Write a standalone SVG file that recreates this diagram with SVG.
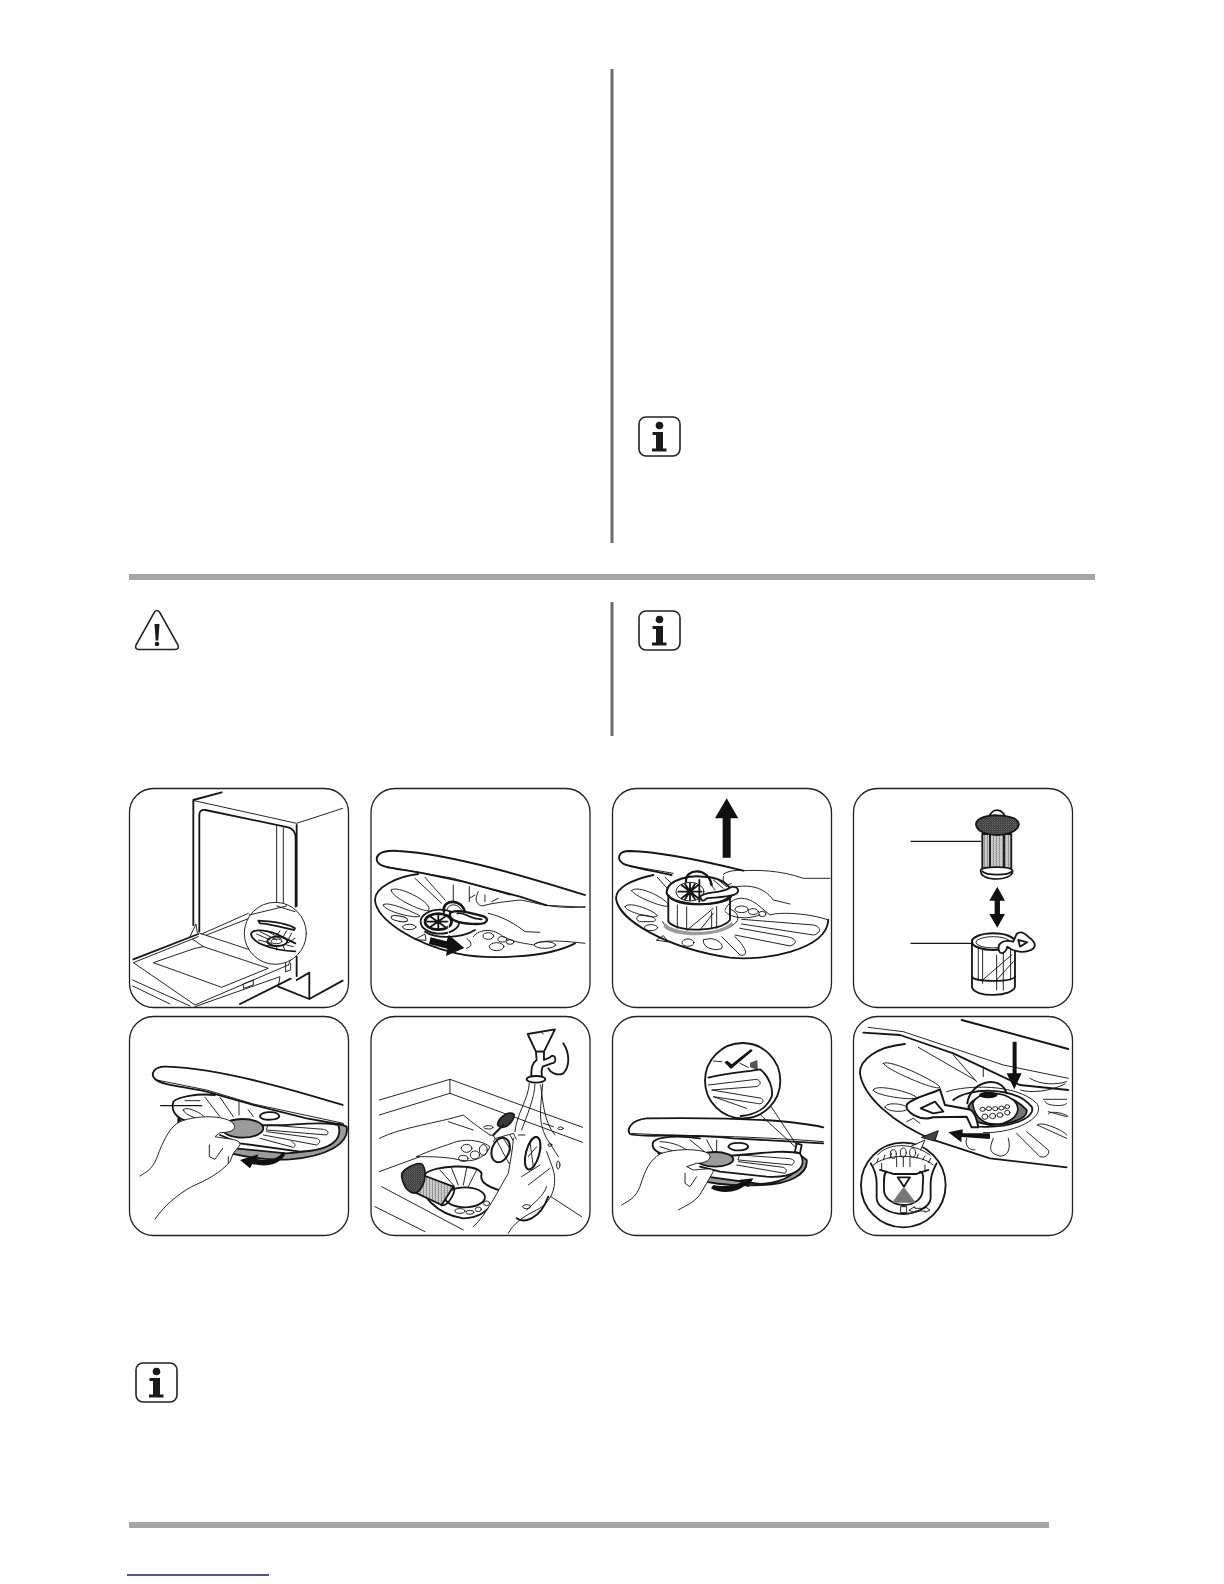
<svg xmlns="http://www.w3.org/2000/svg" width="1224" height="1584" viewBox="0 0 1224 1584">
<defs>
<style>
.bar{fill:#a6a6a6}
.rule{stroke:#6d6d6d;stroke-width:3;fill:none}
.panel{fill:#fff;stroke:#222;stroke-width:1.3}
.art path,.art ellipse,.art circle,.art line{fill:none;stroke:#161616;stroke-linecap:round;stroke-linejoin:round}
.art .t{stroke-width:2.800}
.art .m{stroke-width:5.500}
.art .k{stroke-width:8}
.art .w{fill:#fff}
.art .g{fill:#9b9b9b}
.art .f{fill:#111;stroke:none}
.art .d{fill:#3a3a3a}
.art .wh{fill:#fff;stroke:none}
.art .mesh{fill:url(#mesh)}
.art .str{fill:url(#stripes)}
.ico{fill:none;stroke:#222;stroke-width:1.6}
.icof{fill:#1a1a1a}
</style>
<pattern id="mesh" width="7" height="7" patternUnits="userSpaceOnUse"><rect width="7" height="7" fill="#2e2e2e"/><circle cx="2" cy="2" r="1.700" fill="#c8c8c8"/><circle cx="5.500" cy="5.500" r="1.200" fill="#999"/></pattern>
<pattern id="stripes" width="9" height="6" patternUnits="userSpaceOnUse"><rect width="9" height="6" fill="#d4d4d4"/><rect width="3" height="6" fill="#8a8a8a"/><rect width="9" height="1.500" fill="#aaa"/></pattern>
<symbol id="info" viewBox="0 0 43 41"><rect x="1" y="1" width="41" height="39" rx="7" class="ico"/><circle cx="21.500" cy="9.500" r="3.800" class="icof"/><path class="icof" d="M14.500 16H25V32.500H28.500V35.500H14V32.500H18V19H14.500Z"/></symbol>
</defs>

<g id="rules">
<line class="rule" x1="612" y1="69" x2="612" y2="543"/>
<line class="rule" x1="612" y1="602" x2="612" y2="736"/>
<rect class="bar" x="129" y="574" width="966" height="6"/>
<rect class="bar" x="129" y="1522" width="920" height="6"/>
<line x1="127" y1="1575" x2="269" y2="1575" stroke="#1a1a66" stroke-width="1.500"/>
</g>

<g id="icons">
<use id="info-1" href="#info" x="638" y="416" width="43" height="41"/>
<use id="info-2" href="#info" x="638" y="610" width="43" height="41"/>
<use id="info-3" href="#info" x="135" y="1362" width="43" height="41"/>
<g id="warning">
<path class="ico" d="M157 610.500Q155 610.500 154 613L136 645Q134.500 649.500 139 649.500H175Q179.500 649.500 178 645L160 613Q159 610.500 157 610.500Z"/>
<path class="icof" d="M154.500 624H159.500L158.300 640.500H155.700Z"/><circle class="icof" cx="157" cy="644" r="2.300"/>
</g>
</g>

<g id="panels">
<rect class="panel" x="129.500" y="788.500" width="219" height="219" rx="24"/>
<rect class="panel" x="371" y="788.500" width="219" height="219" rx="24"/>
<rect class="panel" x="612.500" y="788.500" width="219" height="219" rx="24"/>
<rect class="panel" x="853.500" y="788.500" width="219" height="219" rx="24"/>
<rect class="panel" x="129.500" y="1016.500" width="219" height="219" rx="24"/>
<rect class="panel" x="371" y="1016.500" width="219" height="219" rx="24"/>
<rect class="panel" x="612.500" y="1016.500" width="219" height="219" rx="24"/>
<rect class="panel" x="853.500" y="1016.500" width="219" height="219" rx="24"/>
</g>

<g id="step1" class="art" transform="translate(120 780) scale(.3333)">
<path class="m" d="M305 37L220 60V435"/>
<path class="t" d="M222 62L530 130L668 85"/>
<path class="m" d="M530 135V378M530 530V588"/>
<path class="m" d="M238 455V105Q238 88 256 90L505 142Q526 148 527 172V380"/>
<path class="t" d="M470 138V372M490 143V376"/>
<path class="m" d="M40 538L235 462"/>
<path class="t" d="M210 470L228 432L232 458"/>
<path class="t" d="M240 460L497 545V575M235 470L40 548L225 675L505 555M218 478L250 500L225 505L100 548L305 622L445 565L250 500"/>
<path class="t" d="M38 600L210 678M38 618L150 672M245 462L385 400M260 465L400 410M225 680L480 590L475 620"/>
<path class="t" d="M370 612L400 600V615L372 625Z"/>
<path class="m" d="M360 672L512 596"/>
<path class="m" d="M475 620L568 657V578L530 600M568 657L668 602"/>
<path class="t" d="M505 556L520 520M497 575L512 570V550"/>
<circle class="t w" cx="466" cy="460" r="93"/>
<path class="t" d="M388 405L500 378M470 378L525 395M530 395"/>
<path class="m w" d="M415 422C470 425 510 435 525 445L522 450C480 440 440 430 420 430Z"/>
<path class="m" d="M526 490L470 462C430 447 395 448 393 462C395 485 450 512 526 514"/>
<path class="t" d="M410 462L450 480M420 455L470 480M440 452L485 478M470 462L500 480M415 480L455 490M430 495L470 500"/>
<path class="t" d="M480 452L470 468M500 452L490 470M515 460L505 478M525 475L505 488M520 500L500 495M495 512L490 498M470 510V498"/>
<ellipse class="m" cx="472" cy="484" rx="30" ry="14"/>
<ellipse class="t" cx="470" cy="484" rx="16" ry="7"/>
</g>

<g id="step2" class="art" transform="translate(120 780) scale(.3333)">
<path class="m" d="M1395 345C1250 300 1000 222 835 213C780 208 765 228 772 245C785 265 830 265 900 278L1030 305L1200 350L1280 376"/>
<path class="t" d="M800 260L1000 295L1170 345M1280 376L1395 382"/>
<path class="m" d="M895 282C830 290 765 322 765 360C770 420 880 490 1010 520C1100 540 1280 535 1365 490"/>
<path class="t" d="M814 330C830 312 945 370 925 392C905 395 810 350 814 330Z"/>
<path class="t" d="M790 375C795 360 880 395 900 408C895 418 790 395 790 375Z"/>
<ellipse class="t" cx="838" cy="416" rx="25" ry="8" transform="rotate(10 838 416)"/><ellipse class="t" cx="868" cy="441" rx="20" ry="8"/>
<path class="t" d="M885 295L965 370M915 292L975 360M1000 315V365M1048 320V365M1048 355L1065 345"/>
<ellipse class="m w" cx="960" cy="425" rx="58" ry="36"/>
<ellipse class="k w" cx="955" cy="425" rx="40" ry="24"/>
<path class="m" d="M922 425H985M955 405V445M932 410L975 440M975 410L932 440"/>
<path class="m" d="M915 455C950 478 1025 475 1065 450"/>
<path class="k" d="M972 395C965 355 1030 355 1035 400"/>
<path class="t" d="M982 392C980 368 1020 368 1025 395"/>
<path class="k w" style="stroke-width:7" d="M990 400C1000 388 1040 395 1075 405C1112 410 1108 432 1072 432C1040 432 1000 428 990 410Z"/>
<path class="m" d="M1012 400C1030 395 1045 412 1065 415L1085 418"/>
<path class="t" d="M1075 335C1065 355 1065 370 1085 378C1120 368 1160 365 1200 360C1240 365 1300 390 1395 380"/>
<path class="t" d="M1105 400C1150 410 1190 435 1215 455L1260 457"/>
<path class="t" d="M1095 345V365M1135 355L1115 365"/>
<path class="t" d="M1060 470C1080 445 1120 445 1150 470C1190 490 1220 490 1240 495C1260 480 1310 480 1395 490"/>
<ellipse class="t" cx="1105" cy="468" rx="16" ry="10"/><ellipse class="t" cx="1147" cy="478" rx="13" ry="8"/><ellipse class="t" cx="1170" cy="486" rx="12" ry="7"/><ellipse class="t" cx="1130" cy="500" rx="22" ry="12"/>
<ellipse class="t" cx="1275" cy="495" rx="32" ry="10"/>
<path class="t" d="M885 478L915 462L918 480Z"/><path class="t" d="M1040 475C1060 490 1055 500 1040 505"/>
<path class="f" d="M932 472L980 484L986 464L1033 504L978 528L982 506L927 492Z"/>
<path class="t" style="stroke:#fff" d="M985 418V465"/>
</g>

<g id="step3" class="art" transform="translate(600 780) scale(.3333)">
<path class="f" d="M380 55L415 115H392V233H368V115H345Z"/>
<path class="m" d="M430 272C300 240 180 215 90 213C50 213 52 238 68 250C90 262 150 270 215 285"/>
<path class="t" d="M75 255L220 280"/>
<path class="m" d="M160 285C90 300 48 325 48 355C55 420 200 505 390 533C490 545 680 510 685 420"/>
<path class="t" d="M172 292L215 340M195 292L225 320"/>
<path class="t" d="M95 332C110 310 210 360 205 378C190 385 95 345 95 332ZM75 380C85 360 170 395 172 408C160 418 75 395 75 380Z"/>
<path class="t" d="M125 405C105 405 105 425 125 425H160C180 418 150 405 125 405Z"/>
<ellipse class="t" cx="153" cy="443" rx="20" ry="9"/>
<path class="t" d="M170 480L190 467L205 485Z"/>
<ellipse class="t" cx="264" cy="488" rx="18" ry="11"/>
<path class="t" d="M310 480C305 505 350 515 365 505C372 495 355 478 335 476Z"/>
<path class="t" d="M365 470L420 525C440 530 450 515 405 470M405 465L570 498C595 490 590 475 560 470L420 445M425 432L640 465C665 460 665 440 640 435L425 418"/>
<path class="t" d="M188 425C200 470 380 475 412 422C420 400 395 388 385 385"/>
<path class="g" style="stroke:none" d="M195 430C230 465 360 465 395 425L400 435C360 475 220 475 190 440Z"/>
<path class="m w" d="M205 345V425C230 458 360 458 390 420V345Z"/>
<path class="t" d="M232 375V445M260 380V450M350 380V445M262 450L340 385M300 450L340 400M335 395V445"/>
<path class="k w" style="stroke-width:6" d="M200 335C205 295 280 285 310 290C350 290 395 310 395 345C390 380 220 385 200 340Z"/>
<path class="m" d="M205 345C220 385 375 380 392 345"/>
<ellipse class="t w" cx="270" cy="335" rx="42" ry="28"/>
<path class="m" d="M235 335H305M270 310V360M245 315L295 355M295 315L245 355M255 312L285 358M285 312L255 358"/>
<path class="t" d="M340 300L370 325M355 300L380 320M330 310L345 330"/>
<path class="k" style="stroke-width:7" d="M258 305C255 265 325 260 335 315"/>
<path class="m w" d="M300 350C320 330 360 345 395 320C420 320 420 340 400 345C380 352 350 352 320 355C310 365 305 365 300 350Z"/>
<path class="m" d="M298 300V365"/>
<path class="t" d="M370 283C385 270 420 270 430 272C470 270 540 270 610 295H690"/>
<path class="t" d="M370 290C365 310 385 320 395 310M410 320C450 315 490 320 520 360L570 372"/>
<path class="t" d="M375 390C395 345 440 345 480 380L510 405C540 395 630 400 685 420"/>
<ellipse class="t" cx="425" cy="388" rx="20" ry="10"/><ellipse class="t" cx="460" cy="395" rx="15" ry="9"/><ellipse class="t" cx="487" cy="402" rx="11" ry="8"/>
<path class="t" d="M375 395C395 415 440 420 480 405"/>
</g>

<g id="step4" class="art" transform="translate(600 780) scale(.3333)">
<line class="t" style="stroke-width:3.500" x1="933" y1="184" x2="1142" y2="184"/>
<line class="t" style="stroke-width:3.500" x1="933" y1="490" x2="1115" y2="490"/>
<path class="f" d="M1192 320L1215 362H1200V402H1215L1192 443L1168 402H1184V362H1168Z"/>
<path class="m str" d="M1147 162H1234V270H1147Z"/>
<path class="m" d="M1170 165V265M1212 165V265"/>
<path class="k" style="stroke-width:5" d="M1166 125C1165 78 1218 80 1217 125"/>
<path class="m mesh" d="M1128 133C1130 110 1170 105 1192 106C1225 107 1255 115 1257 133C1255 150 1230 165 1192 165C1150 165 1130 150 1128 133Z"/>
<path class="k w" style="stroke-width:5" d="M1142 270C1150 258 1235 258 1238 272C1240 290 1210 297 1190 297C1165 297 1140 290 1142 270Z"/>
<path class="m" d="M1147 274C1160 287 1225 287 1236 274"/>
<path class="m w" d="M1116 482V622C1125 655 1240 650 1245 620V482Z"/>
<ellipse class="k" style="stroke-width:6;fill:#fff" cx="1180" cy="485" rx="64" ry="25"/>
<ellipse class="t" cx="1180" cy="487" rx="52" ry="17"/>
<path class="m" d="M1118 592C1125 605 1235 608 1245 590"/>
<path class="t" d="M1135 505V600M1148 510V610M1190 525V630M1210 515V630M1232 505V600M1148 600L1235 525M1190 600L1240 545"/>
<path class="m w" d="M1197 512C1190 490 1210 478 1240 485L1250 462C1262 452 1272 458 1285 470C1310 488 1312 505 1285 513C1262 520 1235 512 1222 500C1218 520 1200 525 1197 512Z"/>
<path class="m" d="M1255 480L1282 487L1260 500Z"/>
</g>

<g id="step5" class="art" transform="translate(120 1010) scale(.3333)">
<path class="g m" d="M175 325C190 350 240 375 290 395L345 415L500 430C600 425 655 395 655 340L680 350C690 400 620 440 510 448C430 452 340 435 272 412V405L175 345Z"/>
<path class="m" d="M668 285C520 240 300 175 140 170C98 168 92 195 105 207C125 225 180 228 260 245L400 285L560 325L670 345"/>
<path class="t" d="M110 210L260 240L400 282L670 340"/>
<path class="m w" d="M285 255C230 250 175 260 160 275C150 310 180 335 220 335H340L420 345C500 350 560 335 640 342L655 345C668 385 640 420 540 425L360 400L300 375"/>
<path class="t" d="M190 300C195 285 250 310 255 325C250 335 190 315 190 300ZM195 272H240M255 262L300 320M300 262L340 320M357 275V315M385 300L400 320"/>
<path class="m" d="M420 320C420 305 470 300 478 318C478 330 430 335 420 320Z"/>
<path class="t" d="M440 360L620 375C630 365 620 360 610 358L445 345ZM430 375L590 405C605 395 600 390 590 385L440 365M420 385L520 412C530 408 525 400 515 395"/>
<line class="t" style="stroke-width:4" x1="122" y1="287" x2="245" y2="287"/>
<ellipse class="g m" cx="368" cy="355" rx="62" ry="28"/>
<path class="wh" d="M60 498C80 485 95 480 110 445C130 390 150 350 180 335C230 315 310 315 338 338C352 355 340 368 300 368L285 380C320 388 362 385 360 405L340 430L330 455C300 490 260 510 215 530C170 555 130 590 105 628Z"/>
<path class="t" d="M60 498C80 485 95 480 110 445C130 390 150 350 180 335C230 315 310 315 338 338C352 355 340 368 300 368L285 380C320 388 362 385 360 405L340 430L330 455C300 490 260 510 215 530C170 555 130 590 105 628"/>
<path class="t" d="M268 405V440L285 448L308 415M325 440V460"/>
<path class="f" d="M490 425C470 450 445 452 410 447L415 433L360 450L390 475L397 462C440 472 475 465 495 435Z"/>
</g>

<g id="step6" class="art" transform="translate(120 1010) scale(.3333)">
<path class="t" d="M778 270L990 208L1388 352M778 315L990 250L1388 397M990 208V250"/>
<path class="t" d="M778 385C850 350 950 340 1030 315C1060 340 1080 355 1110 375M985 335L1060 360"/>
<path class="t" d="M778 485L900 440M785 530L1030 660M765 590L915 665M1065 650L1150 590M1285 555L1385 620"/>
<path class="m" d="M1330 100C1350 130 1350 170 1330 190C1310 200 1290 185 1285 175"/>
<path class="m w" d="M1223 72L1305 58L1272 125H1248Z"/>
<path class="t" d="M1262 65L1270 72"/>
<path class="m w" d="M1248 125H1272V150L1290 142C1305 125 1315 160 1295 160L1268 170C1262 185 1266 195 1266 200H1234C1234 175 1235 160 1250 150Z"/>
<ellipse class="m w" cx="1248" cy="208" rx="28" ry="10"/>
<path class="t" d="M1228 220C1225 270 1190 310 1185 365M1245 222C1245 260 1220 320 1205 360M1268 222C1265 280 1250 330 1280 385L1315 440M1262 225C1270 290 1275 340 1305 375"/>
<path class="t" d="M1270 340L1300 350"/>
<ellipse class="t" cx="1322" cy="355" rx="8" ry="4"/><ellipse class="t" cx="1290" cy="405" rx="6" ry="4"/><ellipse class="t" cx="1315" cy="465" rx="5" ry="12"/><ellipse class="t" cx="1105" cy="352" rx="14" ry="5"/>
<path class="k d" style="stroke-width:5" d="M1135 335C1145 315 1170 303 1182 313C1185 325 1165 355 1145 352C1135 350 1130 345 1135 335Z"/>
<path class="m" d="M1120 375L1150 345"/>
<path class="t w" d="M1128 385L1180 370L1215 440L1168 460Z"/>
<ellipse class="k" style="stroke-width:6" cx="1142" cy="420" rx="26" ry="38" transform="rotate(20 1142 420)"/>
<path class="t" d="M1150 385L1195 455M1170 375L1210 445"/>
<ellipse class="k w" style="stroke-width:6" cx="1238" cy="430" rx="20" ry="50" transform="rotate(15 1238 430)"/>
<path class="t" d="M1230 395L1240 470M1250 410L1225 440"/>
<path class="t w" d="M890 440C920 425 980 405 1010 395C1050 385 1090 395 1110 410C1100 440 1060 460 1020 450C980 440 930 440 890 440Z"/>
<ellipse class="t" cx="1040" cy="415" rx="16" ry="12"/><ellipse class="t" cx="1065" cy="435" rx="14" ry="12"/><ellipse class="t" cx="1030" cy="445" rx="14" ry="9"/><ellipse class="t" cx="1090" cy="420" rx="12" ry="16"/>
<path class="t" d="M1110 375C1125 375 1130 385 1120 395"/>
<path class="m w" d="M915 492C945 465 1070 460 1085 490C1080 510 1085 525 1150 545C1100 610 1075 625 1030 625C960 615 880 555 915 492Z"/>
<path class="t" d="M960 480L1000 525M995 475L1015 525M1040 475L1030 525M1070 480L1045 530"/>
<ellipse class="m" cx="1035" cy="562" rx="60" ry="30"/>
<ellipse class="t" cx="1020" cy="603" rx="15" ry="7"/><ellipse class="t" cx="1050" cy="607" rx="12" ry="6"/>
<ellipse class="t" cx="1100" cy="580" rx="9" ry="7"/><ellipse class="t" cx="1075" cy="598" rx="9" ry="7"/>
<path class="m str" d="M908 495L1000 530L965 585L880 545Z"/>
<path class="m" d="M1000 528C1012 540 985 590 965 586"/>
<path class="k mesh" style="stroke-width:5" d="M845 500C840 480 890 455 905 462C920 475 920 520 895 545C870 560 850 530 845 500Z"/>
<path class="wh" d="M1165 490L1180 385L1240 410L1280 425L1295 465C1320 530 1290 580 1250 600C1210 620 1180 640 1165 670L1060 650C1100 615 1135 540 1165 490Z"/>
<ellipse class="k w" style="stroke-width:6" cx="1238" cy="430" rx="20" ry="50" transform="rotate(15 1238 430)"/>
<path class="t" d="M1230 395L1240 470M1250 410L1225 440M1195 375L1215 375"/>
<path class="t" d="M1060 650C1100 615 1135 540 1165 490C1170 460 1180 410 1180 385M1165 670C1180 640 1210 620 1250 600C1290 580 1320 530 1295 465L1280 425M1205 500L1260 465M1225 525L1290 475M1220 600C1240 580 1270 560 1280 530"/>
<path class="m" d="M1190 625C1210 640 1260 630 1285 560"/>
<ellipse class="t" cx="1220" cy="590" rx="12" ry="6"/>
</g>

<g id="step7" class="art" transform="translate(600 1010) scale(.3333)">
<path class="g m" d="M175 415C190 440 230 470 265 485L320 500L480 522C560 520 610 480 600 435L620 450C625 490 570 525 480 525C400 530 300 520 260 495L175 430Z"/>
<path class="m" d="M670 352C550 325 350 322 140 325C90 330 80 360 90 372C120 385 240 368 400 385L670 400"/>
<path class="t" d="M95 370C200 378 420 375 670 395"/>
<path class="m w" d="M300 385C230 375 175 380 160 395C150 420 180 435 220 435L340 440C420 440 540 415 600 430C630 480 570 505 500 500L360 485L300 470"/>
<path class="t" d="M180 395C220 395 260 415 265 425M180 410L240 430M270 390L320 430M320 390L345 435M350 390V430"/>
<path class="m" d="M385 410C390 395 440 395 445 410C440 425 395 425 385 410Z"/>
<path class="t" d="M415 450L575 465C590 455 580 448 570 446L420 435ZM410 465L555 490C565 480 555 475 550 472L415 455"/>
<ellipse class="g m" cx="345" cy="448" rx="55" ry="22"/>
<path class="wh" d="M65 585C90 570 105 565 120 530C135 480 150 450 180 432C220 415 300 415 325 430C340 445 320 460 290 460L260 470L280 480C300 480 340 470 340 485L320 520L305 545C290 575 260 585 235 600Z"/>
<path class="t" d="M65 585C90 570 105 565 120 530C135 480 150 450 180 432C220 415 300 415 325 430C340 445 320 460 290 460L260 470L280 480C300 480 340 470 340 485L320 520L305 545C290 575 260 585 235 600"/>
<path class="t" d="M255 490V520L270 530L290 500"/>
<path class="f" d="M333 535C365 555 420 545 435 525L445 532L460 505L415 510L423 517C400 530 365 530 340 525Z"/>
<path class="t" d="M510 285L590 405M482 315L585 410"/>
<path class="m w" d="M590 400L605 405L600 430L585 425Z"/>
<circle class="m w" cx="428" cy="212" r="113"/>
<path class="f" d="M373 157L382 152L395 163L453 117L458 122L393 177Z"/>
<path class="t" d="M340 153L365 155M420 160L445 172"/>
<path class="f" d="M450 158L472 150L474 180L450 172Z" style="fill:#555"/>
<path class="m" d="M325 203C380 190 440 185 480 178C510 200 520 240 515 260C500 295 465 315 422 318"/>
<path class="t" d="M325 225L470 208C485 212 485 228 465 230L335 240L485 265C495 275 485 285 470 280L340 260L440 295"/>
</g>

<g id="step8" class="art" transform="translate(600 1010) scale(.3333)">
<path class="m" d="M1085 30L1405 117"/>
<path class="t" d="M805 52L910 65L1210 165L1405 205"/>
<path class="m" d="M790 68L900 75L1060 130L1260 225L1405 240"/>
<path class="m" d="M915 102C830 110 778 150 780 190C790 260 880 340 1000 390L1170 445L1400 472"/>
<path class="t" d="M955 112L1125 210M1060 135L1130 215M1150 170V200M1262 240C1290 250 1350 245 1395 222M1290 205C1320 225 1370 225 1400 215"/>
<path class="t" d="M850 160C870 145 1020 220 1020 232C1010 245 850 175 850 160ZM820 240C825 220 930 245 950 262C945 275 815 255 820 240ZM855 292C855 275 915 280 925 295C915 310 860 305 855 292ZM920 335L940 325L960 340"/>
<path class="t" d="M1330 268H1400M1335 275C1340 290 1400 290 1400 280M1345 305L1400 320M1312 345L1400 385M1345 312C1345 300 1400 310 1405 320M1312 345C1320 330 1400 365 1400 375"/>
<path class="t" d="M1250 370L1320 440C1340 445 1350 430 1345 420L1280 365M1180 385C1165 420 1170 430 1200 438C1220 440 1235 420 1225 385M1100 385C1095 400 1100 420 1125 420"/>
<path class="t" d="M1040 245C1100 225 1250 220 1310 280C1340 320 1250 370 1150 368"/>
<path class="m" d="M1060 270C1100 235 1240 225 1295 290C1310 320 1240 355 1140 350"/>
<path class="m" style="fill:#777" d="M1105 290C1130 240 1230 245 1280 300C1285 325 1230 345 1170 345L1125 335Z"/>
<path class="k w" style="stroke-width:5" d="M1118 280C1135 245 1200 240 1240 270C1265 295 1255 325 1210 340C1160 350 1125 330 1118 280Z"/>
<ellipse class="f" cx="1165" cy="255" rx="28" ry="10"/>
<ellipse class="t" cx="1148" cy="298" rx="8" ry="6"/><ellipse class="t" cx="1167" cy="296" rx="8" ry="6"/><ellipse class="t" cx="1186" cy="296" rx="8" ry="6"/><ellipse class="t" cx="1205" cy="294" rx="8" ry="6"/><ellipse class="t" cx="1222" cy="290" rx="7" ry="6"/><ellipse class="t" cx="1155" cy="320" rx="9" ry="8"/><ellipse class="t" cx="1178" cy="318" rx="9" ry="8"/><ellipse class="t" cx="1200" cy="315" rx="9" ry="7"/><ellipse class="t" cx="1222" cy="308" rx="8" ry="7"/>
<path class="k" style="stroke-width:6" d="M1102 280C1110 215 1200 190 1220 250"/>
<path class="k w" style="stroke-width:6" d="M1020 238L1035 285L1105 298C1125 300 1132 335 1135 352H1115L1100 320L1000 322C960 335 915 305 920 285C930 265 1000 250 1020 238Z"/>
<path class="m" d="M1005 275L962 295L1000 310L1030 305Z"/>
<path class="f" d="M1238 95H1250V190L1265 190L1243 238L1220 190L1238 190Z"/>
<path class="f" d="M1170 370V387L1085 381L1084 397L1045 367L1088 358V370Z"/>
<path class="d" style="fill:#444;stroke:#111;stroke-width:3" d="M965 382L1015 362L1005 392Z"/>
<circle class="m w" cx="910" cy="525" r="127"/>
<path class="wh" d="M935 410L975 390L962 420Z"/>
<path class="t" d="M935 408L975 390L962 420"/>
<path class="t" d="M833 435C860 400 935 395 990 435"/>
<path class="t" d="M820 465C860 430 960 430 1000 465"/>
<path class="t" d="M830 458L835 445M850 450L855 435M870 445L875 430M950 445L955 432M968 450L975 438M985 458L992 445M890 443V470M910 443V470M930 443V470M845 460V480M975 465V485"/>
<ellipse class="t" cx="880" cy="432" rx="9" ry="13"/><ellipse class="t" cx="910" cy="428" rx="9" ry="14"/><ellipse class="t" cx="938" cy="428" rx="9" ry="14"/>
<path class="m" d="M812 460C822 475 830 490 830 520V565C830 590 870 612 910 612C950 612 990 590 992 565V520C992 490 1005 470 1010 460"/>
<path class="m" d="M860 485C850 490 852 510 852 540C852 565 880 585 910 585C945 585 968 565 968 540C968 510 975 490 960 485"/>
<path class="m" d="M840 480L880 492H950L985 480"/>
<path class="m" d="M893 502H930L912 530Z"/>
<path style="fill:#777;stroke:none" d="M911 530L948 578H876Z"/>
<path class="t" d="M903 590H920V608H903ZM908 590C908 584 916 584 916 590M928 600L945 590V595H975V590L990 600L975 607V603H945V607Z"/>
</g>
</svg>
